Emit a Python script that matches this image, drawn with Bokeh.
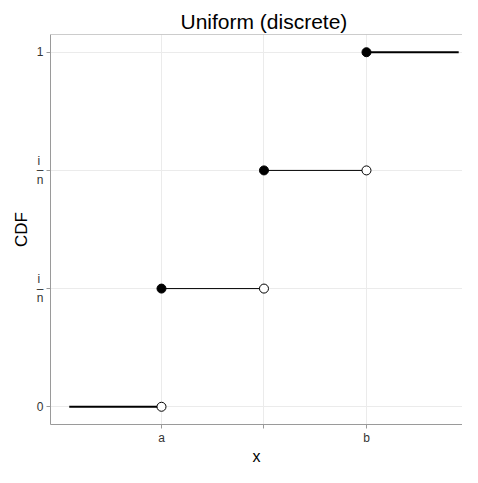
from bokeh.plotting import figure
from bokeh.models import Range1d, FixedTicker, ColumnDataSource, Span
from bokeh.embed import file_html
from bokeh.resources import INLINE

# ---- data ----
levels = [0, 1/3, 2/3, 1]
seg_x0 = [0.1, 1, 2, 3]
seg_x1 = [1, 2, 3, 3.9]
seg_y = [0, 1/3, 2/3, 1]
seg_w = [2, 1, 1, 2]
filled_x = [1, 2, 3]
filled_y = [1/3, 2/3, 1]
open_x = [1, 2, 3]
open_y = [0, 1/3, 2/3]
x_ticks = [1, 2, 3]
x_tick_labels = ["a", "", "b"]
y_tick_labels = ["0", "i \n\u2013\nn", "i \n\u2013\nn", "1"]
title_text = "Uniform (discrete)"
x_label = "x"
y_label = "CDF"

FONT = "Liberation Sans"
TXT = "#333333"
AXC = "#9a9a9a"

Y0, Y1 = -0.05, 1.05
p = figure(width=462, height=467,
           x_range=Range1d(-0.083, 3.937), y_range=Range1d(Y0, Y1),
           output_backend="svg", toolbar_location=None,
           min_border_left=50, min_border_right=0, min_border_top=34, min_border_bottom=41)
p.outline_line_color = None
p.background_fill_color = "white"

# title
p.title.text = title_text
p.title.align = "left"
p.title.offset = 130
p.title.text_font = FONT
p.title.text_font_size = "21px"
p.title.text_font_style = "normal"
p.title.text_color = "black"
p.title.standoff = 4

# axes
for ax in (p.xaxis[0], p.yaxis[0]):
    ax.axis_line_color = AXC
    ax.major_tick_line_color = AXC
    ax.major_tick_in = 0
    ax.major_tick_out = 4
    ax.minor_tick_line_color = None
    ax.major_label_text_font = FONT
    ax.major_label_text_font_size = "12px"
    ax.major_label_text_color = TXT
    ax.axis_label_text_font = FONT
    ax.axis_label_text_font_style = "normal"
    ax.axis_label_text_color = "black"

p.xaxis.major_label_standoff = 2
p.xaxis.axis_label_standoff = 0
p.xaxis.axis_label_text_font_size = "16px"
p.yaxis.major_label_standoff = 3
p.yaxis.axis_label_standoff = 3
p.yaxis.axis_label_text_font_size = "17px"

p.xaxis.axis_label = x_label
p.yaxis.axis_label = y_label
p.yaxis.major_label_text_line_height = 0.7

p.xaxis.ticker = FixedTicker(ticks=x_ticks)
p.xaxis.major_label_overrides = {t: l for t, l in zip(x_ticks, x_tick_labels)}
p.yaxis.ticker = FixedTicker(ticks=levels)
p.yaxis.major_label_overrides = {t: l for t, l in zip(levels, y_tick_labels)}

p.xgrid.ticker = FixedTicker(ticks=x_ticks)
p.ygrid.ticker = FixedTicker(ticks=levels)
p.xgrid.grid_line_color = "#ebebeb"
p.ygrid.grid_line_color = "#ebebeb"

# top border of panel
p.add_layout(Span(location=Y1, dimension="width", line_color=AXC, line_width=1))

# data marks
src = ColumnDataSource(dict(x0=seg_x0, x1=seg_x1, y=seg_y, w=seg_w))
p.segment(x0="x0", y0="y", x1="x1", y1="y", line_width="w", line_color="black", source=src)
p.scatter(open_x, open_y, size=9, fill_color="white", line_color="black", line_width=1)
p.scatter(filled_x, filled_y, size=9, fill_color="black", line_color="black", line_width=1)

open("out.html", "w").write(file_html(p, INLINE))
